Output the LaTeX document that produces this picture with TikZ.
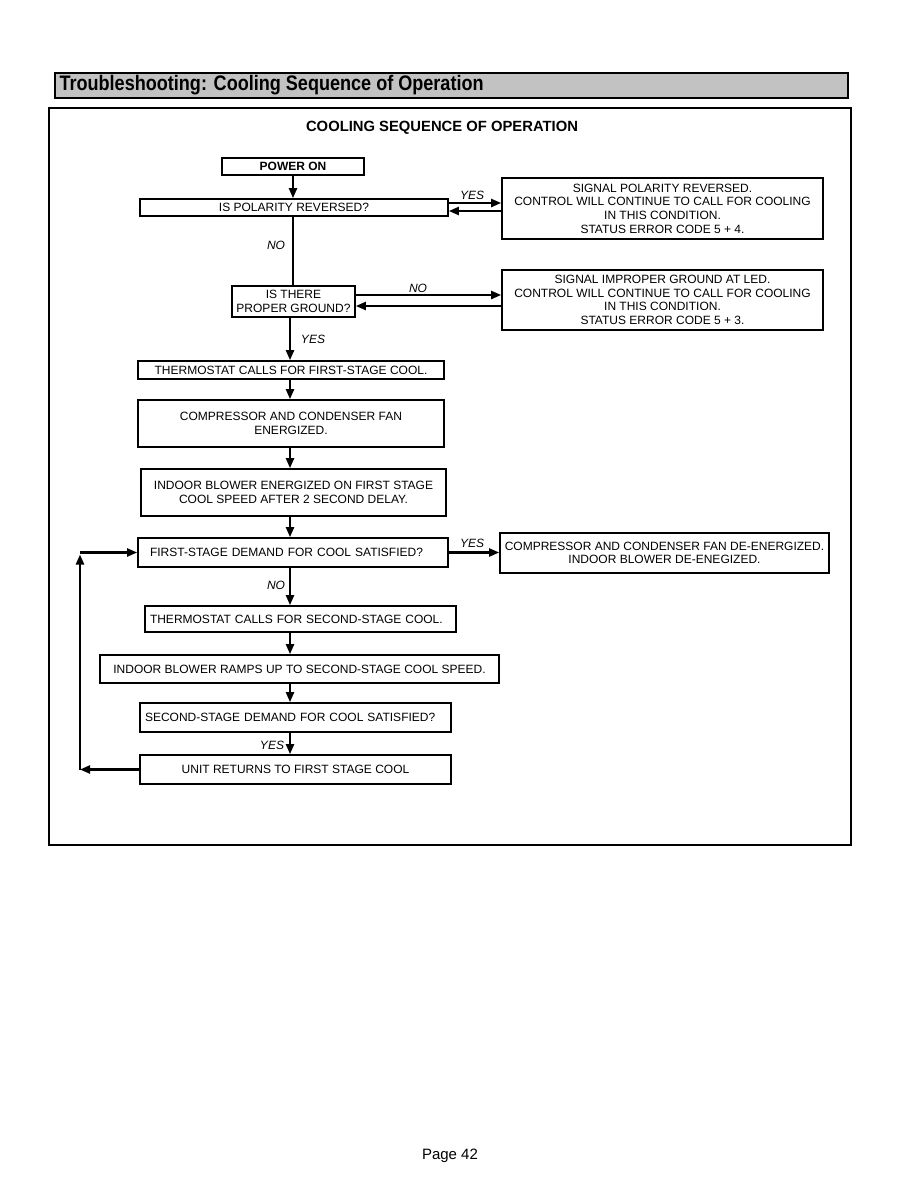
\documentclass[tikz,border=0pt]{standalone}
\usepackage{fontspec}
\setmainfont{Liberation Sans}
\newfontfamily\headfont[FakeStretch=0.86]{Liberation Sans}
\usepackage{tikz}
\usetikzlibrary{positioning,arrows.meta,calc}
\definecolor{bandgray}{HTML}{C2C2C2}
\newcommand{\bodytext}{\fontsize{12}{13.6}\selectfont}

\begin{document}
\begin{tikzpicture}[x=1pt, y=-1pt,
    box/.style={draw, line width=1.7pt, align=center, inner sep=2pt, font=\bodytext},
    lbox/.style={box, align=left, inner ysep=2pt},
    flow/.style={line width=2.2pt, -{Triangle[length=10pt,width=8pt]}},
    tag/.style={font=\bodytext\itshape}]
\useasboundingbox (0,0) rectangle (918,1188);

% Header band
\draw[line width=1.6pt, fill=bandgray] (55,73) rectangle (848,98);
\node[anchor=west, font=\headfont\bfseries\fontsize{21}{24}\selectfont] (head) at (56,85) {Troubleshooting: Cooling Sequence of Operation};

% Frame and title
\draw[line width=2.8pt] (49,108) rectangle (851,845);
\node[font=\bfseries\fontsize{14.8}{17}\selectfont] (title) at (442,128) {COOLING SEQUENCE OF OPERATION};

% Spines for the vertical flow
\coordinate (spa) at (293,0);
\coordinate (spb) at (290,0);

% Boxes
\node[box, minimum width=142, minimum height=17, font=\bodytext\bfseries] (power) at (293,166.5) {POWER ON};
\node[box, minimum width=308, minimum height=17] (polar) at (294,207.5) {IS POLARITY REVERSED?};
\node[box, minimum width=321, minimum height=61] (polsig) at (662.5,208.5) {SIGNAL POLARITY REVERSED.\\CONTROL WILL CONTINUE TO CALL FOR COOLING\\IN THIS CONDITION.\\STATUS ERROR CODE 5 + 4.};
\node[box, minimum width=123, minimum height=31] (ground) at (293.5,301.5) {IS THERE\\PROPER GROUND?};
\node[box, minimum width=321, minimum height=60] (gndsig) at (662.5,300) {SIGNAL IMPROPER GROUND AT LED.\\CONTROL WILL CONTINUE TO CALL FOR COOLING\\IN THIS CONDITION.\\STATUS ERROR CODE 5 + 3.};
\node[box, minimum width=306, minimum height=18] (stage1) at (291,370) {THERMOSTAT CALLS FOR FIRST-STAGE COOL.};
\node[box, minimum width=306, minimum height=47] (comp) at (291,423.5) {COMPRESSOR AND CONDENSER FAN\\ENERGIZED.};
\node[box, minimum width=305, minimum height=47] (blower) at (293.5,492.5) {INDOOR BLOWER ENERGIZED ON FIRST STAGE\\COOL SPEED AFTER 2 SECOND DELAY.};
\node[lbox, inner xsep=12pt, text width=286, minimum height=29] (demand1) at (293,552.5) {FIRST-STAGE DEMAND FOR COOL SATISFIED?};
\node[box, minimum width=329, minimum height=40] (deenergy) at (664.5,553) {COMPRESSOR AND CONDENSER FAN DE-ENERGIZED.\\INDOOR BLOWER DE-ENEGIZED.};
\node[lbox, inner xsep=5pt, text width=301, minimum height=26] (stage2) at (300.5,619) {THERMOSTAT CALLS FOR SECOND-STAGE COOL.};
\node[box, minimum width=399, minimum height=28] (ramp) at (299.5,669) {INDOOR BLOWER RAMPS UP TO SECOND-STAGE COOL SPEED.};
\node[lbox, inner xsep=5pt, text width=301, minimum height=29] (demand2) at (295.5,717.5) {SECOND-STAGE DEMAND FOR COOL SATISFIED?};
\node[box, minimum width=311, minimum height=29] (returns) at (295.5,769.5) {UNIT RETURNS TO FIRST STAGE COOL};

% Vertical flow
\draw[flow] (spa |- power.south) -- (spa |- polar.north);
\draw[line width=2.2pt] (spa |- polar.south) -- (spa |- ground.north);
\draw[flow] (spb |- ground.south) -- (spb |- stage1.north);
\draw[flow] (spb |- stage1.south) -- (spb |- comp.north);
\draw[flow] (spb |- comp.south) -- (spb |- blower.north);
\draw[flow] (spb |- blower.south) -- (spb |- demand1.north);
\draw[flow] (spb |- demand1.south) -- (spb |- stage2.north);
\draw[flow] (spb |- stage2.south) -- (spb |- ramp.north);
\draw[flow] (spb |- ramp.south) -- (spb |- demand2.north);
\draw[flow] (spb |- demand2.south) -- (spb |- returns.north);

\node[tag] (no1) at (276,245) {NO};
\node[tag] (yes2) at (313,339) {YES};
\node[tag] (no3) at (276,585) {NO};
\node[tag] (yes4) at (272,745) {YES};

% Side branches
\draw[flow] ([yshift=4.5pt]polar.east) -- ([yshift=4.5pt]polar.east -| polsig.west);
\draw[flow] ([yshift=-3.5pt]polar.east -| polsig.west) -- ([yshift=-3.5pt]polar.east);
\node[tag] (yes1) at (472,195) {YES};

\draw[flow] ([yshift=6.5pt]ground.east) -- ([yshift=6.5pt]ground.east -| gndsig.west);
\draw[flow] ([yshift=-4.5pt]ground.east -| gndsig.west) -- ([yshift=-4.5pt]ground.east);
\node[tag] (no2) at (418,288) {NO};

\draw[flow] (demand1.east) -- (demand1.east -| deenergy.west);
\node[tag] (yes3) at (472,543) {YES};

% Loop back to first stage
\coordinate (loopa) at (80,769.5);
\coordinate (loopb) at (80,552.5);
\draw[flow] (returns.west) -- (loopa);
\draw[flow] (loopa) -- ([yshift=-2pt]loopb);
\draw[flow] (loopb) -- (demand1.west);

% Page number
\node[font=\fontsize{15}{17}\selectfont] (page) at (450,1156) {Page 42};
\end{tikzpicture}
\end{document}
